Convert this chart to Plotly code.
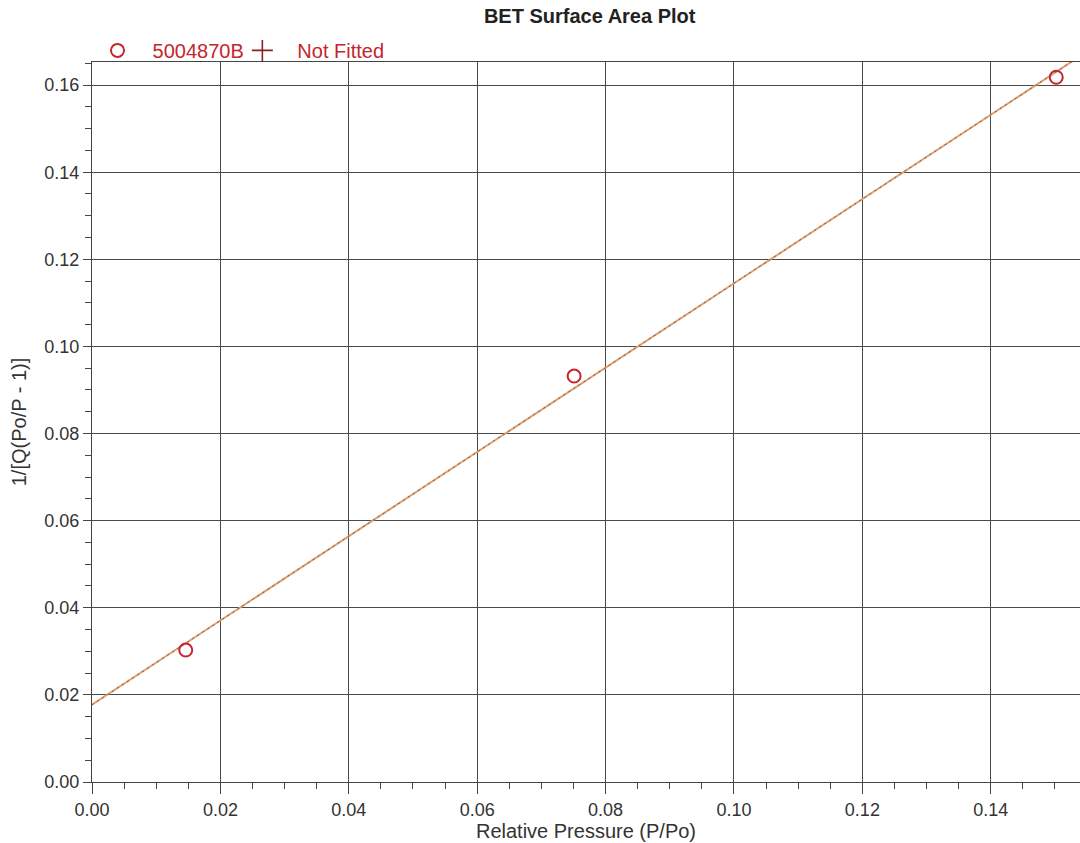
import numpy as np
import plotly.graph_objects as go

# Measured BET points
rel_pressure = [0.0146, 0.0751, 0.1502]
bet_value = [0.0303, 0.0932, 0.1618]
sample_name = "5004870B"

# Linear BET fit through the measured points
slope, intercept = np.polyfit(rel_pressure, bet_value, 1)
fit_x = [0.0, 0.16]
fit_y = [intercept + slope * v for v in fit_x]

x_ticks = [0.00, 0.02, 0.04, 0.06, 0.08, 0.10, 0.12, 0.14]
y_ticks = [0.00, 0.02, 0.04, 0.06, 0.08, 0.10, 0.12, 0.14, 0.16]

red = "#c4262e"
font = "Arial, Liberation Sans, sans-serif"

fig = go.Figure()

# fitted line: tan line with a fine dark dash on top
fig.add_trace(go.Scatter(x=fit_x, y=fit_y, mode="lines",
                         line=dict(color="#e0a070", width=2),
                         showlegend=False, hoverinfo="skip"))
fig.add_trace(go.Scatter(x=fit_x, y=fit_y, mode="lines",
                         line=dict(color="#5a4a40", width=0.8, dash="2px,4px"),
                         showlegend=False, hoverinfo="skip"))

fig.add_trace(go.Scatter(x=rel_pressure, y=bet_value, mode="markers",
                         name=sample_name, legend="legend",
                         marker=dict(symbol="circle-open", size=13, color=red,
                                     line=dict(width=2, color=red))))
fig.add_trace(go.Scatter(x=[None], y=[None], mode="markers",
                         name="Not Fitted", legend="legend2",
                         marker=dict(symbol="cross-thin-open", size=15,
                                     color="#8a2020",
                                     line=dict(width=1.6, color="#8a2020"))))

axis_common = dict(
    showgrid=True, gridcolor="#4a4a4a", gridwidth=1.3,
    showline=True, linecolor="#444", linewidth=1.3,
    ticks="outside", tickwidth=1.2, tickcolor="#444",
    tickfont=dict(family=font, size=18, color="#333"),
    zeroline=False,
    minor=dict(ticks="outside", ticklen=6, tickwidth=1, tickcolor="#444",
               dtick=0.005, showgrid=False),
)

fig.update_xaxes(range=[0, 0.1539], tickvals=x_ticks,
                 ticktext=[f"{v:.2f}" for v in x_ticks],
                 mirror=True, ticklen=11,
                 title=dict(text="Relative Pressure (P/Po)",
                            font=dict(family=font, size=20, color="#333"),
                            standoff=0),
                 **axis_common)
fig.update_yaxes(range=[0, 0.1653], tickvals=y_ticks,
                 ticktext=[f"{v:.2f}" for v in y_ticks],
                 ticklen=8,
                 title=dict(text="1/[Q(Po/P - 1)]",
                            font=dict(family=font, size=20, color="#333"),
                            standoff=12),
                 **axis_common)

legend_common = dict(orientation="h", yanchor="bottom", y=0.989, xanchor="left",
                     font=dict(family=font, size=20, color=red),
                     bgcolor="rgba(0,0,0,0)", itemwidth=60)

fig.update_layout(
    width=1080, height=843,
    margin=dict(l=92, r=0, t=62, b=61),
    paper_bgcolor="white", plot_bgcolor="white",
    title=dict(text="<b>BET Surface Area Plot</b>", x=0.546, xanchor="center",
               y=0.989, yanchor="top",
               font=dict(family=font, size=20, color="#222")),
    legend=dict(x=-0.0096, **legend_common),
    legend2=dict(x=0.137, **legend_common),
    showlegend=True,
)

fig.write_html("out.html")
